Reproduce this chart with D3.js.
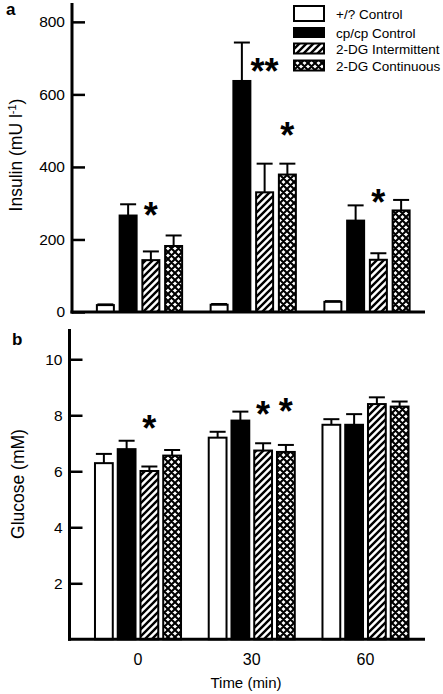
<!DOCTYPE html>
<html><head><meta charset="utf-8">
<script src="https://cdn.jsdelivr.net/npm/d3@7"></script>
<style>body{margin:0;background:#fff} text{font-family:"Liberation Sans",Arial,Helvetica,sans-serif;fill:#000}</style>
</head><body><svg id="c" width="443" height="694"></svg>
<script>
// ---- data ----
const times = ["0", "30", "60"];
const seriesNames = ["+/? Control", "cp/cp Control", "2-DG Intermittent", "2-DG Continuous"];
const seriesFills = ["white", "black", "hatch", "cross"];

const insulinLean      = [19, 20, 28];
const insulinObese     = [266, 637, 252];
const insulinInterm    = [143, 330, 144];
const insulinContin    = [182, 379, 280];
const insulinLeanSem   = [2, 2, 2];
const insulinObeseSem  = [31, 106, 42];
const insulinIntermSem = [24, 79, 18];
const insulinContinSem = [29, 30, 29];
const insulinTicks = [0, 200, 400, 600, 800];
// significance marks: [time index, series index, label, value at mark centre]
const insulinStars = [[0, 2, "*", 289], [1, 2, "**", 687], [1, 3, "*", 510], [2, 2, "*", 326]];

const glucoseLean      = [6.29, 7.20, 7.66];
const glucoseObese     = [6.79, 7.81, 7.66];
const glucoseInterm    = [6.01, 6.74, 8.40];
const glucoseContin    = [6.56, 6.69, 8.31];
const glucoseLeanSem   = [0.33, 0.21, 0.20];
const glucoseObeseSem  = [0.30, 0.32, 0.38];
const glucoseIntermSem = [0.16, 0.26, 0.24];
const glucoseContinSem = [0.20, 0.25, 0.18];
const glucoseTicks = [2, 4, 6, 8, 10];
const glucoseStars = [[0, 2, "*", 7.83], [1, 2, "*", 8.34], [1, 3, "*", 8.44]];

// ---- drawing ----
const svg = d3.select("#c");
const defs = svg.append("defs");
const hp = defs.append("pattern").attr("id", "hatch").attr("patternUnits", "userSpaceOnUse")
  .attr("width", 7).attr("height", 7);
hp.append("rect").attr("width", 7).attr("height", 7).attr("fill", "white");
hp.append("path").attr("d", "M-1,1 L1,-1 M0,7 L7,0 M6,8 L8,6").attr("stroke", "black").attr("stroke-width", 2.4);
const cp = defs.append("pattern").attr("id", "cross").attr("patternUnits", "userSpaceOnUse")
  .attr("width", 7).attr("height", 7);
cp.append("rect").attr("width", 7).attr("height", 7).attr("fill", "white");
cp.append("path").attr("d", "M-1,1 L1,-1 M0,7 L7,0 M6,8 L8,6 M-1,6 L1,8 M0,0 L7,7 M6,-1 L8,1")
  .attr("stroke", "black").attr("stroke-width", 2.1);
const fillOf = f => f === "white" ? "white" : f === "black" ? "black" : `url(#${f})`;

function panel(cfg) {
  const g = svg.append("g");
  const y = d3.scaleLinear().domain([0, cfg.yMax]).range([cfg.y0, cfg.yTop]);
  const x = d3.scalePoint().domain(times).range(cfg.xCenters);
  const xs = d3.scaleBand().domain(d3.range(4)).range([-cfg.half, cfg.half])
    .paddingInner(cfg.pad).paddingOuter(cfg.pad / 2);
  const bw = xs.bandwidth();

  const rows = [];
  cfg.means.forEach((arr, s) => arr.forEach((v, t) =>
    rows.push({s, t, v, e: cfg.sems[s][t]})));

  // error bars (up only)
  const eb = g.append("g").attr("stroke", "black").attr("stroke-width", 2);
  rows.forEach(d => {
    const cx = x(times[d.t]) + xs(d.s) + bw / 2;
    eb.append("line").attr("x1", cx).attr("x2", cx).attr("y1", y(d.v)).attr("y2", y(d.v + d.e));
    eb.append("line").attr("x1", cx - 8).attr("x2", cx + 8).attr("y1", y(d.v + d.e)).attr("y2", y(d.v + d.e));
  });
  // bars
  g.append("g").selectAll("rect").data(rows).join("rect")
    .attr("x", d => x(times[d.t]) + xs(d.s) + 1)
    .attr("width", bw - 2)
    .attr("y", d => y(d.v))
    .attr("height", d => y(0) - y(d.v))
    .attr("fill", d => fillOf(seriesFills[d.s]))
    .attr("stroke", "black").attr("stroke-width", 2);

  // stars
  g.append("g").selectAll("text").data(cfg.stars).join("text")
    .attr("x", d => x(times[d[0]]) + xs(d[1]) + bw / 2)
    .attr("y", d => y(d[3]) + 21)
    .attr("text-anchor", "middle")
    .attr("font-size", 36).attr("font-weight", "bold")
    .text(d => d[2]);

  // y axis
  const ax = g.append("g").attr("transform", `translate(${cfg.axX},0)`)
    .call(d3.axisLeft(y).tickValues(cfg.ticks).tickSizeInner(-13).tickSizeOuter(0).tickPadding(7));
  ax.select(".domain").remove();
  ax.selectAll(".tick line").attr("stroke", "black").attr("stroke-width", 2.5);
  ax.selectAll(".tick text").attr("font-size", 15.5).attr("font-family", "Liberation Sans, Arial, sans-serif").attr("fill", "black");
  g.append("line").attr("x1", cfg.axX).attr("x2", cfg.axX).attr("y1", cfg.yTop).attr("y2", cfg.y0 + 1.5)
    .attr("stroke", "black").attr("stroke-width", 3);
  g.append("line").attr("x1", cfg.axX - 1.5).attr("x2", 425).attr("y1", cfg.y0).attr("y2", cfg.y0)
    .attr("stroke", "black").attr("stroke-width", 3);

  // y label
  const lab = g.append("text").attr("transform", `translate(${cfg.labX},${cfg.labY}) rotate(-90)`)
    .attr("text-anchor", "middle").attr("font-size", 17.5);
  cfg.label(lab);

  g.append("text").attr("x", cfg.letterX).attr("y", cfg.letterY).attr("font-size", 17)
    .attr("font-weight", "bold").text(cfg.letter);
  return {x, xs};
}

panel({
  yMax: 852, y0: 312, yTop: 3, xCenters: [139.5, 367], half: 45.5, pad: 0.165, axX: 72,
  means: [insulinLean, insulinObese, insulinInterm, insulinContin],
  sems: [insulinLeanSem, insulinObeseSem, insulinIntermSem, insulinContinSem],
  ticks: insulinTicks, stars: insulinStars,
  labX: 22, labY: 155,
  label: t => { t.append("tspan").text("Insulin (mU l");
                t.append("tspan").attr("dy", -6).attr("font-size", 11).text("-1");
                t.append("tspan").attr("dy", 6).text(")"); },
  letter: "a", letterX: 6, letterY: 15
});

const pb = panel({
  yMax: 11.08, y0: 639.3, yTop: 329, xCenters: [138, 365.5], half: 45.5, pad: 0.13, axX: 69.5,
  means: [glucoseLean, glucoseObese, glucoseInterm, glucoseContin],
  sems: [glucoseLeanSem, glucoseObeseSem, glucoseIntermSem, glucoseContinSem],
  ticks: glucoseTicks, stars: glucoseStars,
  labX: 24, labY: 484,
  label: t => t.text("Glucose (mM)"),
  letter: "b", letterX: 12, letterY: 345
});

// x tick labels (panel b)
svg.append("g").selectAll("text").data(times).join("text")
  .attr("x", d => pb.x(d)).attr("y", 665).attr("text-anchor", "middle").attr("font-size", 16).text(d => d);
svg.append("text").attr("x", 246).attr("y", 688).attr("text-anchor", "middle").attr("font-size", 15).text("Time (min)");

// legend
const legRows = [[13.5, 15], [32.5, 9], [48.5, 10], [65.5, 10]];
const leg = svg.append("g");
seriesNames.forEach((n, i) => {
  const [cy, h] = legRows[i];
  leg.append("rect").attr("x", 294).attr("y", cy - h / 2).attr("width", 30).attr("height", h)
    .attr("fill", fillOf(seriesFills[i])).attr("stroke", "black").attr("stroke-width", 2);
  leg.append("text").attr("x", 336).attr("y", cy + 5).attr("font-size", 13.5).text(n);
});
</script></body></html>
